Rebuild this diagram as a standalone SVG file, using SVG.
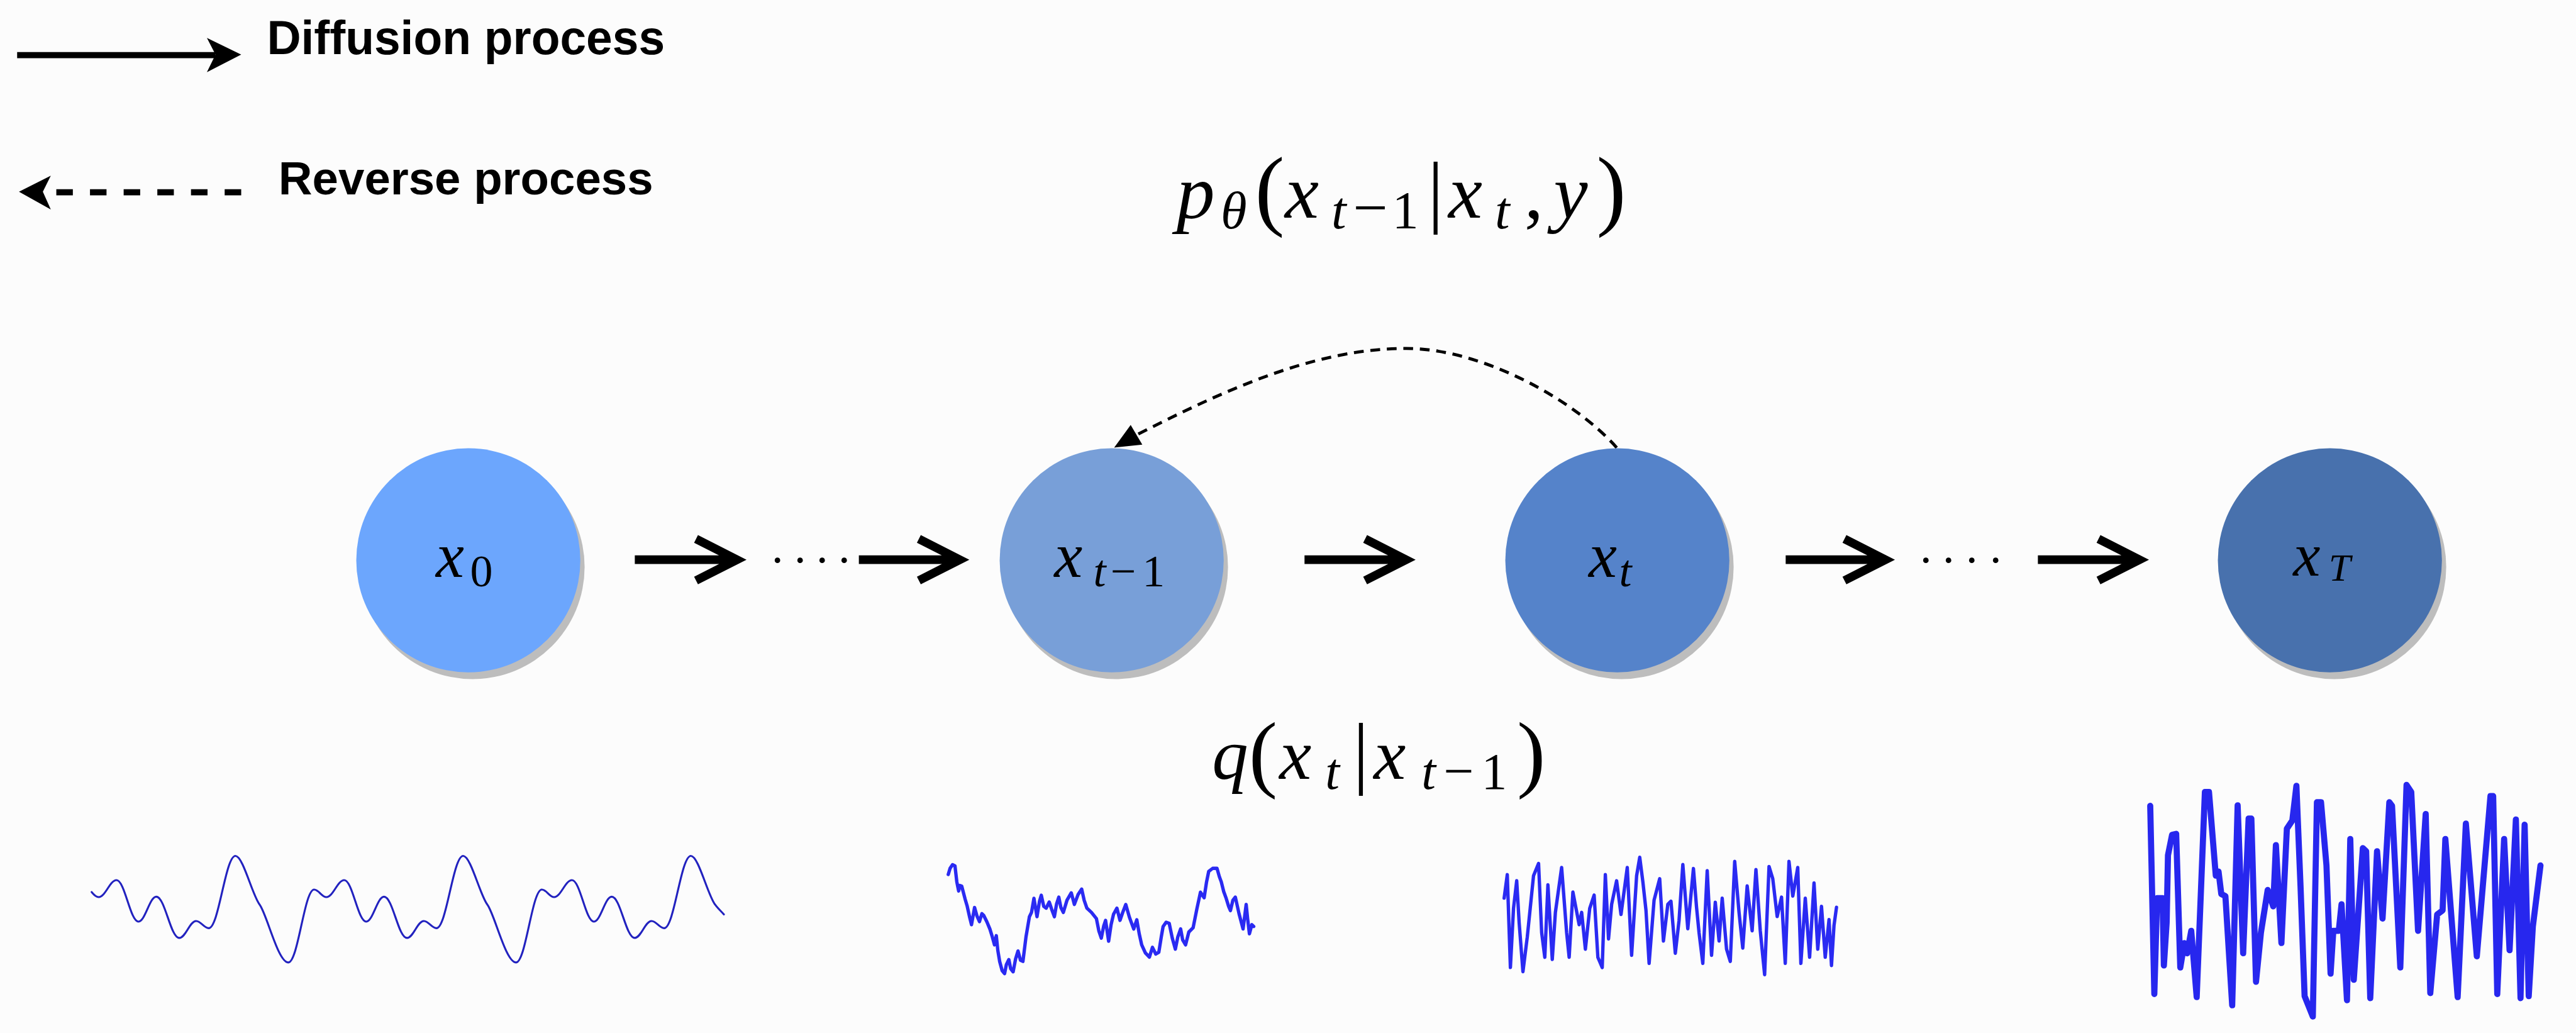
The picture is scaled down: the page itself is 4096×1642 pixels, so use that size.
<svg xmlns="http://www.w3.org/2000/svg" width="4096" height="1642" viewBox="0 0 4096 1642">
<defs>
<style>
.bg{fill:#fcfcfc}
.shadow{fill:#bdbdbd}
.lbl{font-family:"Liberation Serif","Times New Roman",serif;font-style:italic;fill:#000}
.rm{font-style:normal}
.legend{font-family:"Liberation Sans",Arial,sans-serif;font-weight:bold;fill:#000}
.arrow{fill:none;stroke:#000;stroke-width:14;stroke-linejoin:miter;stroke-miterlimit:10;stroke-linecap:butt}
.dot{fill:#000}
.wave{fill:none;stroke-linejoin:round;stroke-linecap:round}
</style>
</defs>
<rect class="bg" x="0" y="0" width="4096" height="1642"/>
<g transform="scale(0.97338)">
  <g id="legend">
    <path d="M28,90 H352" stroke="#000" stroke-width="10" fill="none"/>
    <polygon points="338,62 394,89 338,118 352,89" fill="#000"/>
    <text class="legend" x="436" y="88" font-size="78" textLength="650" lengthAdjust="spacingAndGlyphs">Diffusion process</text>
    <path d="M394,314 H92" stroke="#000" stroke-width="10" stroke-dasharray="27 28" fill="none"/>
    <polygon points="31,313 83,287 70,313 83,342" fill="#000"/>
    <text class="legend" x="455" y="317" font-size="76" textLength="612" lengthAdjust="spacingAndGlyphs">Reverse process</text>
  </g>

  <g id="connectors">
    <path d="M2641,731 C2571,652 2420,569 2297,569 C2145,569 1995,640 1857,710" fill="none" stroke="#000" stroke-width="5" stroke-dasharray="16 11"/>
    <polygon points="1820,731 1847,694 1866,726" fill="#000"/>
    <path class="arrow" d="M1037,914 H1204 M1137,880 L1204,914 L1137,948"/>
    <path class="arrow" d="M1403,914 H1568 M1501,880 L1568,914 L1501,948"/>
    <path class="arrow" d="M2131,914 H2297 M2230,880 L2297,914 L2230,948"/>
    <path class="arrow" d="M2917,914 H3080 M3013,880 L3080,914 L3013,948"/>
    <path class="arrow" d="M3329,914 H3495 M3428,880 L3495,914 L3428,948"/>
    <circle class="dot" cx="1270" cy="915" r="4.5"/>
    <circle class="dot" cx="1307" cy="915" r="4.5"/>
    <circle class="dot" cx="1343" cy="915" r="4.5"/>
    <circle class="dot" cx="1379" cy="915" r="4.5"/>
    <circle class="dot" cx="3146" cy="915" r="4.5"/>
    <circle class="dot" cx="3183" cy="915" r="4.5"/>
    <circle class="dot" cx="3221" cy="915" r="4.5"/>
    <circle class="dot" cx="3260" cy="915" r="4.5"/>
  </g>

  <g id="node-x0">
    <circle class="shadow" cx="772" cy="926" r="183"/>
    <circle cx="765" cy="915" r="183" fill="#6ca6fd"/>
    <text class="lbl"><tspan x="712" y="942" font-size="104">x</tspan><tspan class="rm" x="768" y="958" font-size="74">0</tspan></text>
  </g>
  <g id="node-xt-1">
    <circle class="shadow" cx="1823" cy="926" r="183"/>
    <circle cx="1816" cy="915" r="183" fill="#789fd8"/>
    <text class="lbl"><tspan x="1722" y="942" font-size="104">x</tspan><tspan x="1786" y="958" font-size="74">t</tspan><tspan class="rm" x="1814" y="958" font-size="74">−</tspan><tspan class="rm" x="1866" y="958" font-size="74">1</tspan></text>
  </g>
  <g id="node-xt">
    <circle class="shadow" cx="2649" cy="926" r="183"/>
    <circle cx="2642" cy="915" r="183" fill="#5583ca"/>
    <text class="lbl"><tspan x="2595" y="942" font-size="104">x</tspan><tspan x="2645" y="958" font-size="74">t</tspan></text>
  </g>
  <g id="node-xT">
    <circle class="shadow" cx="3813" cy="926" r="183"/>
    <circle cx="3806" cy="915" r="183" fill="#4871ad"/>
    <text class="lbl"><tspan x="3746" y="940" font-size="100">x</tspan><tspan x="3804" y="948" font-size="64">T</tspan></text>
  </g>

  <g id="formula-p">
    <text class="lbl" font-size="125"><tspan x="1922" y="355">p</tspan><tspan x="1994" y="373" font-size="87">θ</tspan><tspan class="rm" x="2050" y="358" font-size="145">(</tspan><tspan x="2099" y="355">x</tspan><tspan x="2175" y="373" font-size="87">t</tspan><tspan class="rm" x="2210" y="373" font-size="101">−</tspan><tspan class="rm" x="2274" y="373" font-size="87">1</tspan><tspan class="rm" x="2332" y="355" font-size="130">|</tspan><tspan x="2366" y="355">x</tspan><tspan x="2442" y="373" font-size="87">t</tspan><tspan class="rm" x="2490" y="355">,</tspan><tspan x="2538" y="355">y</tspan><tspan class="rm" x="2608" y="358" font-size="145">)</tspan></text>
  </g>
  <g id="formula-q">
    <text class="lbl" font-size="118"><tspan x="1980" y="1272">q</tspan><tspan class="rm" x="2040" y="1276" font-size="140">(</tspan><tspan x="2090" y="1272">x</tspan><tspan x="2165" y="1288" font-size="84">t</tspan><tspan class="rm" x="2210" y="1272" font-size="130">|</tspan><tspan x="2244" y="1272">x</tspan><tspan x="2322" y="1288" font-size="84">t</tspan><tspan class="rm" x="2358" y="1288" font-size="88">−</tspan><tspan class="rm" x="2420" y="1288" font-size="84">1</tspan><tspan class="rm" x="2478" y="1276" font-size="140">)</tspan></text>
  </g>

  <g id="wave-x0">
    <path class="wave" stroke="#2222bf" stroke-width="3.2" d="M149.7,1456.7 C154,1462 157.5,1465 161.2,1465 C172.2,1465 179.3,1437.3 190.3,1437.3 C203.9,1437.3 212.6,1505 226.2,1505 C237.2,1505 244.3,1464.3 255.3,1464.3 C269.6,1464.3 278.5,1531.7 292.8,1531.7 C303.3,1531.7 309.8,1504 320.3,1504 C328.2,1504 333.1,1515.7 341,1515.7 C357.6,1515.7 368,1397.7 384.6,1397.7 C397,1397.7 412,1461.4 424,1477 C436,1492.6 454,1571.7 471,1571.7 C487,1571.7 497.1,1452.7 513.1,1452.7 C520.7,1452.7 525.6,1465 533.2,1465 C544.2,1465 551.3,1437.3 562.3,1437.3 C575.9,1437.3 584.6,1505 598.2,1505 C609.2,1505 616.3,1464.3 627.3,1464.3 C641.6,1464.3 650.5,1531.7 664.8,1531.7 C675.3,1531.7 681.8,1504 692.3,1504 C700.2,1504 705.1,1515.7 713,1515.7 C729.6,1515.7 740,1397.7 756.6,1397.7 C769,1397.7 784,1461.4 796,1477 C808,1492.6 826,1571.7 843,1571.7 C859,1571.7 869.1,1452.7 885.1,1452.7 C892.7,1452.7 897.6,1465 905.2,1465 C916.2,1465 923.3,1437.3 934.3,1437.3 C947.9,1437.3 956.6,1505 970.2,1505 C981.2,1505 988.3,1464.3 999.3,1464.3 C1013.6,1464.3 1022.5,1531.7 1036.8,1531.7 C1047.3,1531.7 1053.8,1504 1064.3,1504 C1072.2,1504 1077.1,1515.7 1085,1515.7 C1101.6,1515.7 1112,1397.7 1128.6,1397.7 C1141,1397.7 1156,1461.4 1168,1477 C1173,1484 1178,1488 1182.5,1493.3"/>
  </g>
  <g id="wave-xt-1">
    <path class="wave" stroke="#2a2af2" stroke-width="5.5" d="M1549,1428 L1552,1418 L1556,1412 L1560,1414 L1563,1440 L1566,1455 L1568,1446 L1571,1447 L1576.5,1468 L1580,1480 L1584,1498 L1587,1510 L1592,1482 L1596,1496 L1600,1505 L1604,1492 L1607,1495 L1612,1505 L1617,1517 L1621,1530 L1624.5,1543 L1627.5,1528 L1630,1552 L1633,1570 L1637,1585 L1641,1590 L1644,1575 L1648,1567 L1651,1582 L1655,1587 L1659,1566 L1663,1553 L1667,1568 L1671,1570 L1676,1530 L1681.6,1497 L1685,1490 L1689,1467 L1694,1497 L1698,1472 L1701,1462 L1705,1480 L1709,1483 L1714,1473 L1718,1485 L1722.4,1497 L1726,1476 L1729.6,1465 L1733,1482 L1737,1490 L1743,1470 L1750,1458 L1755,1477 L1761,1461 L1767,1452 L1771,1470 L1775.5,1483 L1783,1490 L1791,1500 L1795,1520 L1799,1532 L1803,1512 L1806,1503 L1811,1537 L1815,1510 L1819,1493 L1824.5,1483 L1829.6,1503 L1834,1490 L1839,1477 L1845,1498 L1852,1517 L1857,1502 L1861,1525 L1865,1543 L1871,1556 L1877.6,1563 L1882.6,1547 L1888,1558 L1893,1555 L1897,1530 L1900,1513 L1905,1506 L1910,1508 L1915,1532 L1920,1550 L1924,1530 L1928.6,1517 L1932,1535 L1936.7,1543 L1942,1522 L1949,1515 L1955,1485 L1961,1457 L1967,1466 L1971,1440 L1974.5,1423 L1981,1418 L1988,1418 L1992,1432 L1995,1440 L1999,1456 L2003,1467 L2007,1480 L2010,1487 L2014,1470 L2018,1465 L2024,1492 L2030.6,1517 L2035.7,1477 L2038,1500 L2041,1525 L2045,1510 L2048,1513"/>
  </g>
  <g id="wave-xt">
    <path class="wave" stroke="#2a2af2" stroke-width="5.5" d="M2457.1,1466.7 L2462.2,1428.3 L2467.3,1580 L2472.4,1483.3 L2477.6,1438.3 L2481.6,1506.7 L2487.8,1586.7 L2494.9,1530 L2505.1,1430 L2513.3,1410 L2518.4,1523.3 L2523.5,1563.3 L2528.6,1445 L2535.7,1566.7 L2540.8,1490 L2551,1416.7 L2559.2,1523.3 L2563.3,1563.3 L2569.4,1456.7 L2579.6,1510 L2583.7,1490 L2589.8,1550 L2596.9,1483.3 L2604.1,1461.7 L2610.2,1563.3 L2617.3,1580 L2622.4,1428.3 L2627.6,1533.3 L2632.7,1476.7 L2640.8,1438.3 L2648,1493.3 L2658.2,1416.7 L2665.3,1560 L2673.5,1430 L2678.6,1400 L2683.7,1440 L2688.8,1486.7 L2693.9,1573.3 L2702,1470 L2711.2,1435 L2717.3,1536.7 L2724.5,1476.7 L2729.6,1471.7 L2736.7,1556.7 L2742.8,1503.3 L2749,1411.7 L2757.1,1516.7 L2766.3,1418.3 L2771.4,1481.7 L2775.5,1523.3 L2781.6,1573.3 L2788.8,1421.7 L2795.9,1560 L2802,1473.3 L2808.2,1536.7 L2813.3,1466.7 L2820.4,1550 L2826.5,1570 L2833.7,1406.7 L2840.8,1490 L2846.9,1548.3 L2854.1,1446.7 L2862.2,1520 L2868.4,1420 L2875.5,1520 L2882.6,1591.7 L2889.8,1415 L2895.9,1435 L2903.1,1496.7 L2910.2,1465 L2916.3,1573.3 L2922.4,1406.7 L2928.6,1463.3 L2936.7,1416.7 L2941.8,1573.3 L2949,1466.7 L2956.1,1563.3 L2963.3,1441.7 L2969.4,1550 L2975.5,1480 L2981.6,1563.3 L2987.8,1501.7 L2991.8,1576.7 L2995.9,1511.7 L3000,1481.7"/>
  </g>
  <g id="wave-xT">
    <path class="wave" stroke="#2727ee" stroke-width="10" d="M3512.5,1316 L3519.2,1623.3 L3523.7,1466.7 L3532.6,1466.7 L3534.8,1576.7 L3539.3,1506.7 L3541.5,1396.7 L3548.2,1363.3 L3554.9,1361.7 L3561.6,1580 L3568.3,1540 L3572.8,1556.7 L3579.5,1520 L3588.4,1628.3 L3601.8,1293.3 L3608.5,1293.3 L3619.6,1430 L3624.1,1423.3 L3628.6,1460 L3635.3,1463.3 L3646.4,1641.7 L3655.3,1315 L3664.3,1556.7 L3673.2,1336.7 L3677.7,1336.7 L3685.3,1603.3 L3693.3,1523.3 L3704.4,1453.3 L3713.4,1480 L3717.8,1380 L3726.8,1540 L3735.7,1353.3 L3744.6,1340 L3751.3,1283.3 L3758,1446.7 L3764.7,1626.7 L3778.1,1660 L3784.8,1310 L3791.5,1310 L3800.4,1413.3 L3807.1,1590 L3811.6,1520 L3820.5,1520 L3825,1476.7 L3833.9,1633.3 L3839.3,1370 L3845,1600 L3859.8,1385 L3865.2,1390 L3871.9,1630 L3883,1390 L3892,1500 L3903.1,1310 L3907.5,1316 L3921,1580 L3931.2,1281.7 L3938.9,1293.3 L3950,1520 L3962.5,1329.3 L3970,1621.7 L3981.2,1493.3 L3990.1,1486.7 L3994.6,1370 L4014.7,1628.3 L4028.1,1345 L4046,1561.7 L4068.3,1300 L4072.7,1300 L4079.4,1623.3 L4090.6,1370 L4099.5,1551.7 L4109.8,1338.3 L4117.4,1630 L4124.1,1346.7 L4130.8,1626.7 L4137.5,1513.3 L4150,1413.3"/>
  </g>
</g>
</svg>
